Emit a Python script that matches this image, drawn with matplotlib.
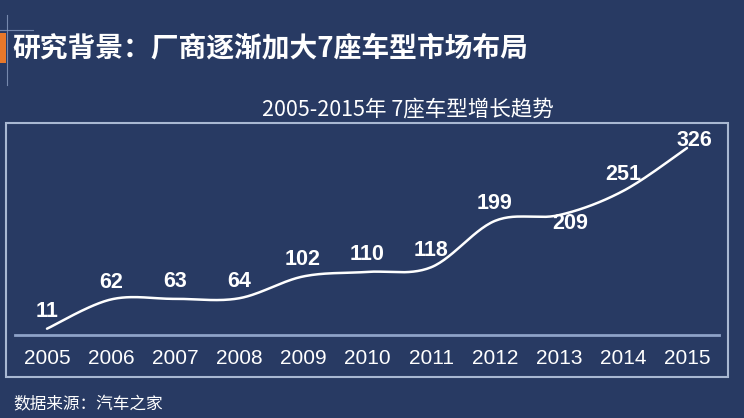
import matplotlib.pyplot as plt
import numpy as np
from matplotlib.patches import Rectangle
from matplotlib.lines import Line2D

years = ['2005', '2006', '2007', '2008', '2009', '2010', '2011', '2012', '2013', '2014', '2015']
models = [11, 62, 63, 64, 102, 110, 118, 199, 209, 251, 326]

title = '研究背景：厂商逐渐加大7座车型市场布局'
subtitle = '2005-2015年 7座车型增长趋势'
source = '数据来源：汽车之家'

bg = '#283a63'
frame_col = '#a9b8d2'
cjk = ['Noto Sans CJK SC', 'DejaVu Sans']
num_font = ['Liberation Sans', 'DejaVu Sans']


def smooth(xs, ys, n=30):
    # excel style smoothed line: bezier through the points
    xs = np.asarray(xs, float)
    ys = np.asarray(ys, float)
    px = np.concatenate([[xs[0]], xs, [xs[-1]]])
    py = np.concatenate([[ys[0]], ys, [ys[-1]]])
    out_x, out_y = [], []
    t = np.linspace(0, 1, n)
    for i in range(1, len(px) - 2):
        p0 = np.array([px[i], py[i]])
        p3 = np.array([px[i + 1], py[i + 1]])
        p1 = p0 + (np.array([px[i + 1], py[i + 1]]) - np.array([px[i - 1], py[i - 1]])) / 6
        p2 = p3 - (np.array([px[i + 2], py[i + 2]]) - p0) / 6
        b = ((1 - t) ** 3)[:, None] * p0 + (3 * (1 - t) ** 2 * t)[:, None] * p1 \
            + (3 * (1 - t) * t ** 2)[:, None] * p2 + (t ** 3)[:, None] * p3
        out_x.extend(b[:, 0])
        out_y.extend(b[:, 1])
    return out_x, out_y


fig = plt.figure(figsize=(7.44, 4.18), dpi=100, facecolor=bg)

# header decoration
fig.patches.append(Rectangle((0, 1 - 63 / 418), 6 / 744, 30 / 418, transform=fig.transFigure,
                             facecolor='#e8782a', edgecolor='none'))
fig.lines.append(Line2D([0, 33 / 744], [1 - 30 / 418] * 2, transform=fig.transFigure,
                        color='#8a9cc0', lw=0.8, alpha=0.8))
fig.lines.append(Line2D([7 / 744] * 2, [1 - 15 / 418, 1 - 85 / 418], transform=fig.transFigure,
                        color='#8a9cc0', lw=0.8, alpha=0.8))
fig.text(12 / 744, 1 - 48 / 418, title, family=cjk, fontsize=20, fontweight='bold',
         color='white', va='center', ha='left')

# chart frame
fig.patches.append(Rectangle((6 / 744, 41 / 418), 722 / 744, 254 / 418, transform=fig.transFigure,
                             facecolor='none', edgecolor=frame_col, lw=1.5))
fig.text(408 / 744, 1 - 109 / 418, subtitle, family=cjk, fontsize=15.5,
         color='white', va='center', ha='center')

ax = fig.add_axes([15 / 744, 83 / 418, 704 / 744, 0.494])
ax.set_facecolor('none')
x = np.arange(len(years))
sx, sy = smooth(x, models)
ax.plot(sx, sy, color='white', lw=1.8, solid_capstyle='round')
ax.set_xlim(-0.5, len(years) - 0.5)
ax.set_ylim(0, 360)

offsets = {8: (11, -8), 10: (7, 8)}
for i, v in enumerate(models):
    dx, dy = offsets.get(i, (0, 17))
    ax.annotate(str(v), (x[i], v), xytext=(dx, dy), textcoords='offset pixels',
                ha='center', va='center', color='white', fontsize=15.5,
                fontweight='bold', family=num_font)

for s in ['top', 'right', 'left']:
    ax.spines[s].set_visible(False)
ax.spines['bottom'].set_color('#8ea2c8')
ax.spines['bottom'].set_linewidth(2)
ax.set_yticks([])
ax.set_xticks(x)
ax.set_xticklabels(years, color='white', fontsize=15, family=num_font)
ax.tick_params(axis='x', length=0, pad=10)

fig.text(13 / 744, 1 - 405 / 418, source, family=cjk, fontsize=12,
         color='white', va='center', ha='left')

fig.savefig('out.png', dpi=100, facecolor=bg)
